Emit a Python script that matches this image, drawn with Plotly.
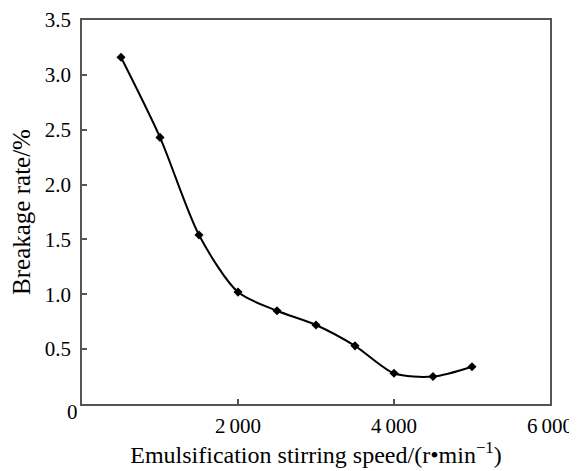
import plotly.graph_objects as go

speed = [500, 1000, 1500, 2000, 2500, 3000, 3500, 4000, 4500, 5000]
breakage = [3.16, 2.43, 1.54, 1.02, 0.85, 0.72, 0.53, 0.28, 0.25, 0.34]

x_tickvals = [2000, 4000, 6000]
x_ticktext = ["2\u2009000", "4\u2009000", "6\u2009000"]
y_tickvals = [0.5, 1.0, 1.5, 2.0, 2.5, 3.0, 3.5]
y_ticktext = ["0.5", "1.0", "1.5", "2.0", "2.5", "3.0", "3.5"]

font = "Liberation Serif, Times New Roman, serif"
fs = 21

fig = go.Figure()
fig.add_trace(go.Scatter(
    x=speed, y=breakage, mode="lines+markers",
    line=dict(color="black", width=2, shape="spline", smoothing=0.8),
    marker=dict(symbol="diamond", size=7, color="black"),
    showlegend=False,
))

axis_common = dict(
    showline=True, linecolor="#555555", linewidth=1.5, mirror=True,
    ticks="inside", ticklen=5, tickcolor="#555555", tickwidth=1.5,
    showgrid=False, zeroline=False, automargin=False,
    tickfont=dict(family=font, size=fs, color="black"),
)

fig.update_xaxes(range=[0, 6000], tickvals=x_tickvals, ticktext=x_ticktext,
                 ticklabelstandoff=2,
                 title=dict(text="Emulsification stirring speed/(r\u2022min<sup>\u22121</sup>)",
                            font=dict(family=font, size=24, color="black"), standoff=4),
                 **axis_common)
fig.update_yaxes(range=[0, 3.5], tickvals=y_tickvals, ticktext=y_ticktext,
                 ticklabelstandoff=5,
                 title=dict(text="Breakage rate/%",
                            font=dict(family=font, size=25, color="black"), standoff=8),
                 **axis_common)

fig.add_annotation(x=0, y=0, xref="x", yref="y", text="0", showarrow=False,
                   xshift=-10, yshift=-8, font=dict(family=font, size=fs, color="black"))

# page body has an 8px default margin; shrink the figure so the plot lands where the reference's does
fig.update_layout(
    width=569, height=463,
    margin=dict(l=74, r=27, t=12, b=67),
    paper_bgcolor="white", plot_bgcolor="white",
)

fig.write_html("out.html")
